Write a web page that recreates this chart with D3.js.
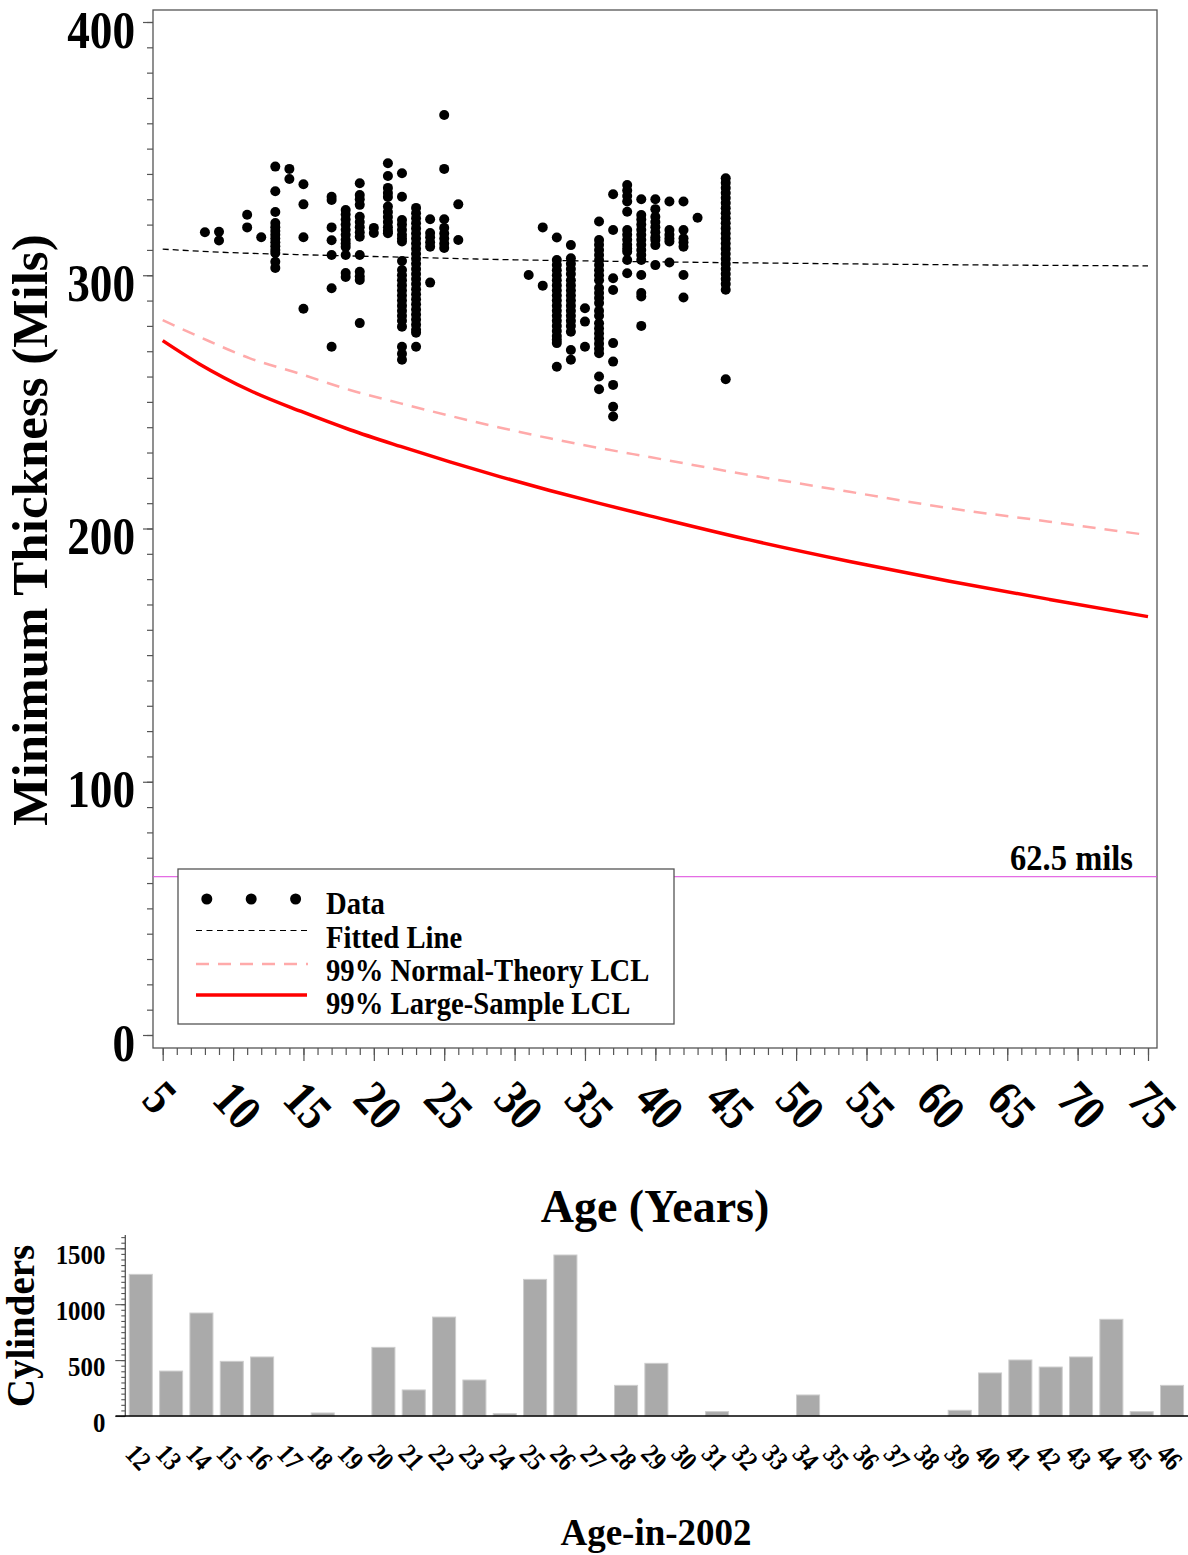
<!DOCTYPE html>
<html>
<head>
<meta charset="utf-8">
<script src="https://cdn.jsdelivr.net/npm/d3@7"></script>
<style>
  html, body { margin: 0; padding: 0; background: #fff; }
  svg { display: block; }
  text { font-family: "Liberation Serif", "Times New Roman", serif; font-weight: bold; fill: #000; }
</style>
</head>
<body>
<svg id="chart" width="1188" height="1555"></svg>
<script>
// ---------------- DATA ----------------
// scatter: one column of thickness readings per age
const pointAges = [8, 9, 11, 12, 13, 14, 15, 17, 18, 19, 20, 21, 22, 23, 24, 25, 26, 31, 32, 33, 34, 35, 36, 37, 38, 39, 40, 41, 42, 43, 45];
const pointThickness = [
  [317.0],
  [317.2, 313.7],
  [323.9, 318.9],
  [315.0],
  [342.9, 333.2, 325.0, 320.6, 319, 317.5, 316, 314.5, 313, 311.5, 310, 308.8, 305.3, 302.9],
  [342.0, 338.0],
  [335.9, 328.0, 315.0, 286.8],
  [331.0, 329.7, 318.9, 313.8, 308.0, 294.9, 271.8],
  [325.8, 324, 322, 320, 318, 316, 314, 312.5, 311.2, 308.0, 300.9, 299.3],
  [336.3, 331.7, 330, 327.8, 323.1, 321, 319, 317, 315.2, 308.0, 301.4, 299.5, 298.1, 281.1],
  [318.7, 316.7],
  [344.2, 339.2, 334.5, 332.5, 330.9, 327.1, 325, 323, 321, 319, 317.5, 316.6],
  [340.3, 331.0, 321.8, 320, 318, 316, 314.5, 313.3, 305.6, 302.1, 300, 298, 296, 294, 292, 290, 288, 286, 284, 282, 279.7, 271.8, 269, 266.6],
  [326.6, 324.5, 322.5, 320.5, 318.5, 316.5, 314.5, 312.5, 310.5, 308.5, 306.5, 304.5, 302.5, 300.5, 298.5, 296.5, 294.5, 292.5, 290.5, 288.5, 286.5, 284.5, 282.5, 280.5, 278.5, 277.3, 271.8],
  [322.1, 316.7, 315, 313, 311.3, 297.1],
  [363.3, 342.0, 322.1, 318.7, 316.5, 314.5, 312.5, 310.8],
  [328.0, 313.9],
  [300.1],
  [318.9, 295.9],
  [314.9, 306.0, 304, 302, 300, 298, 296, 294, 292, 290, 288, 286, 284, 282, 280, 278, 276, 274.5, 273.2, 263.9],
  [311.9, 306.7, 304.5, 302.5, 300.5, 298, 296, 294, 292, 290, 288, 286, 284, 282, 280, 277.7, 270.5, 266.6],
  [287.0, 281.7, 271.8],
  [321.2, 313.9, 312, 310, 308, 306, 304, 302, 300, 298, 295, 293, 291, 289, 286, 284, 281, 279, 277, 275, 273, 271, 269.2, 260.0, 255.0],
  [332.0, 317.9, 298.8, 294.2, 273.2, 265.9, 256.7, 248.1, 244.2],
  [335.6, 333.5, 331.3, 329.1, 325.1, 317.9, 316, 314, 312, 310.5, 309.3, 306.0, 300.8],
  [330.0, 323.8, 322, 320, 318, 316, 314, 312, 310, 308, 306.0, 300.1, 293.0, 291.6, 280.0],
  [330.0, 326.1, 323.1, 321, 319, 317, 315, 313.9, 311.9, 304.0],
  [329.1, 317.9, 316, 314.5, 313.3, 305.0],
  [329.1, 317.9, 314.6, 313, 311.3, 300.1, 291.2],
  [322.7],
  [338.3, 336.5, 334.5, 332.5, 330.5, 328.5, 326.5, 324.5, 322.5, 320.5, 318.5, 316.5, 314.5, 312.5, 310.5, 308.5, 306.5, 304.5, 302.5, 300.5, 298.5, 296.5, 294.3, 258.9]
];

// fitted line
const fitAges = [5, 10, 15, 20, 30, 40, 50, 60, 75];
const fittedThickness = [310.3, 308.9, 308.1, 307.4, 306.1, 305.3, 304.7, 304.2, 303.7];

// lower confidence limits
const lclAges = [5, 7.6, 11.2, 14.8, 18.3, 21.9, 25.4, 29, 32.5, 36.1, 39.6, 46.7, 53.8, 60.9, 68, 75];
const normalTheoryLCL = [282.3, 275.7, 267.2, 261.0, 254.7, 249.4, 244.5, 239.8, 235.6, 231.7, 228.2, 221.1, 214.5, 208.0, 202.7, 197.4];
const largeSampleLCL = [274.2, 265.0, 254.5, 246.3, 239.0, 232.4, 226.3, 220.4, 215.0, 209.8, 205.0, 195.5, 187.0, 179.2, 172.0, 165.2];

const minimumAllowed = 62.5;

const xTickValues = [5, 10, 15, 20, 25, 30, 35, 40, 45, 50, 55, 60, 65, 70, 75];
const yTickValues = [0, 100, 200, 300, 400];

const legendLabels = ["Data", "Fitted Line", "99% Normal-Theory LCL", "99% Large-Sample LCL"];

// bar chart
const barAges = ["12","13","14","15","16","17","18","19","20","21","22","23","24","25","26","27","28","29","30","31","32","33","34","35","36","37","38","39","40","41","42","43","44","45","46"];
const cylinders = [1267, 402, 921, 489, 528, 0, 27, 0, 614, 233, 885, 322, 21, 1222, 1440, 0, 274, 471, 0, 39, 0, 0, 188, 0, 0, 0, 0, 51, 385, 501, 438, 528, 865, 39, 274];
const barTickValues = [0, 500, 1000, 1500];

// ---------------- DRAW ----------------
const svg = d3.select("#chart");
const FONT = '"Liberation Serif", "Times New Roman", serif';
const SQ = 0.87; // horizontal squeeze of the tall, narrow tick font

// main plot geometry
const frame = { left: 153, top: 10, right: 1157, bottom: 1048 };
const x = d3.scaleLinear().domain([5, 75]).range([162.7, 1148]);
const y = d3.scaleLinear().domain([0, 400]).range([1035, 22]);

// frame
svg.append("rect")
  .attr("x", frame.left).attr("y", frame.top)
  .attr("width", frame.right - frame.left).attr("height", frame.bottom - frame.top)
  .attr("fill", "none").attr("stroke", "#555").attr("stroke-width", 1.3);

// y axis minor + major
const yMinor = svg.append("g").attr("transform", `translate(${frame.left},0)`)
  .call(d3.axisLeft(y).tickValues(d3.range(0, 401, 10)).tickSize(6).tickFormat(""));
const yMajor = svg.append("g").attr("transform", `translate(${frame.left},0)`)
  .call(d3.axisLeft(y).tickValues(yTickValues).tickSize(10).tickFormat(d3.format("d")));
[yMinor, yMajor].forEach(g => {
  g.select(".domain").remove();
  g.selectAll("line").attr("stroke", "#555").attr("stroke-width", 1.2);
});
yMajor.selectAll("text")
  .attr("x", 0).attr("y", 0).attr("dy", null)
  .attr("text-anchor", "end")
  .attr("transform", `translate(-18,25) scale(${SQ},1)`)
  .style("font-family", FONT).style("font-weight", "bold").style("font-size", "52px").attr("fill", "#000");

// x axis minor + major
const xMinor = svg.append("g").attr("transform", `translate(0,${frame.bottom})`)
  .call(d3.axisBottom(x).tickValues(d3.range(5, 76, 1)).tickSize(7).tickFormat(""));
const xMajor = svg.append("g").attr("transform", `translate(0,${frame.bottom})`)
  .call(d3.axisBottom(x).tickValues(xTickValues).tickSize(13).tickFormat(d3.format("d")));
[xMinor, xMajor].forEach(g => {
  g.select(".domain").remove();
  g.selectAll("line").attr("stroke", "#555").attr("stroke-width", 1.2);
});
xMajor.selectAll("text")
  .attr("x", 0).attr("y", 0).attr("dy", null)
  .attr("text-anchor", "start")
  .attr("transform", `translate(-23,53) rotate(47) scale(0.86,1)`)
  .style("font-family", FONT).style("font-weight", "bold").style("font-size", "50px").attr("fill", "#000");

// axis titles
svg.append("text")
  .attr("transform", "translate(47,530) rotate(-90)")
  .attr("text-anchor", "middle")
  .style("font-size", "51px")
  .text("Minimum Thickness (Mils)");
svg.append("text")
  .attr("x", 655).attr("y", 1222)
  .attr("text-anchor", "middle")
  .style("font-size", "46px")
  .text("Age (Years)");

// 62.5 mils reference line
svg.append("line")
  .attr("x1", frame.left).attr("x2", frame.right)
  .attr("y1", y(minimumAllowed)).attr("y2", y(minimumAllowed))
  .attr("stroke", "#dd44dd").attr("stroke-width", 1);
svg.append("text")
  .attr("transform", `translate(1133,${y(minimumAllowed) - 7}) scale(0.93,1)`)
  .attr("text-anchor", "end")
  .style("font-size", "35px")
  .text("62.5 mils");

// curves
const lineGen = d3.line().x(d => x(d[0])).y(d => y(d[1])).curve(d3.curveMonotoneX);
svg.append("path")
  .datum(lclAges.map((a, i) => [a, normalTheoryLCL[i]]))
  .attr("d", lineGen).attr("fill", "none")
  .attr("stroke", "#ffaaaa").attr("stroke-width", 2.5).attr("stroke-dasharray", "13,9");
svg.append("path")
  .datum(lclAges.map((a, i) => [a, largeSampleLCL[i]]))
  .attr("d", lineGen).attr("fill", "none")
  .attr("stroke", "#ff0000").attr("stroke-width", 3.5);
svg.append("path")
  .datum(fitAges.map((a, i) => [a, fittedThickness[i]]))
  .attr("d", lineGen).attr("fill", "none")
  .attr("stroke", "#000").attr("stroke-width", 1.3).attr("stroke-dasharray", "6,4");

// scatter points
const pts = [];
pointAges.forEach((a, i) => pointThickness[i].forEach(v => pts.push([a, v])));
svg.append("g").selectAll("circle").data(pts).join("circle")
  .attr("cx", d => x(d[0])).attr("cy", d => y(d[1])).attr("r", 5).attr("fill", "#000");

// legend
const lg = svg.append("g");
lg.append("rect")
  .attr("x", 178).attr("y", 869).attr("width", 496).attr("height", 155)
  .attr("fill", "#fff").attr("stroke", "#555").attr("stroke-width", 1.3);
[206.8, 251.2, 295.6].forEach(cx => lg.append("circle").attr("cx", cx).attr("cy", 899).attr("r", 5.5).attr("fill", "#000"));
lg.append("line").attr("x1", 196).attr("x2", 308).attr("y1", 930.5).attr("y2", 930.5)
  .attr("stroke", "#000").attr("stroke-width", 1.2).attr("stroke-dasharray", "6,4.5");
lg.append("line").attr("x1", 196).attr("x2", 308).attr("y1", 964).attr("y2", 964)
  .attr("stroke", "#ffaaaa").attr("stroke-width", 2.5).attr("stroke-dasharray", "13,9");
lg.append("line").attr("x1", 196).attr("x2", 307).attr("y1", 995).attr("y2", 995)
  .attr("stroke", "#ff0000").attr("stroke-width", 3.5);
const legendBaselines = [914, 948, 981, 1014];
legendLabels.forEach((t, i) => lg.append("text")
  .attr("transform", `translate(326,${legendBaselines[i]}) scale(0.925,1)`)
  .style("font-size", "31px").text(t));

// ---------------- BAR CHART ----------------
const bx = d3.scaleBand().domain(barAges).range([125.6, 1187.2]).paddingInner(0.24).paddingOuter(0.12);
const by = d3.scaleLinear().domain([0, 1500]).range([1416, 1248.3]);
const barAxisX = 125.3;

svg.append("g").selectAll("rect").data(barAges.map((a, i) => [a, cylinders[i]])).join("rect")
  .attr("x", d => bx(d[0])).attr("width", bx.bandwidth())
  .attr("y", d => by(d[1])).attr("height", d => by(0) - by(d[1]))
  .attr("fill", "#aaaaaa").attr("stroke", "#cdcdcd").attr("stroke-width", 1);

// y axis for bars
svg.append("line").attr("x1", barAxisX).attr("x2", barAxisX)
  .attr("y1", by(0)).attr("y2", 1235).attr("stroke", "#555").attr("stroke-width", 1.3);
const byMinor = svg.append("g").attr("transform", `translate(${barAxisX},0)`)
  .call(d3.axisLeft(by).tickValues(d3.range(0, 1601, 50)).tickSize(4).tickFormat(""));
const byMajor = svg.append("g").attr("transform", `translate(${barAxisX},0)`)
  .call(d3.axisLeft(by).tickValues(barTickValues).tickSize(10).tickFormat(d3.format("d")));
[byMinor, byMajor].forEach(g => {
  g.select(".domain").remove();
  g.selectAll("line").attr("stroke", "#555").attr("stroke-width", 1.1);
});
byMajor.selectAll("text")
  .attr("x", 0).attr("y", 0).attr("dy", null)
  .attr("text-anchor", "end")
  .attr("transform", "translate(-20,15) scale(0.92,1)")
  .style("font-family", FONT).style("font-weight", "bold").style("font-size", "27px").attr("fill", "#000");

// baseline
svg.append("line").attr("x1", 115.5).attr("x2", 1188)
  .attr("y1", by(0)).attr("y2", by(0)).attr("stroke", "#000").attr("stroke-width", 1.6);

// x labels for bars
svg.append("g").selectAll("text").data(barAges).join("text")
  .attr("transform", d => `translate(${bx(d) + bx.bandwidth() / 2 - 2},1457) rotate(47) scale(0.85,1)`)
  .attr("text-anchor", "middle").attr("dy", "0.35em")
  .style("font-size", "27px")
  .text(d => d);

svg.append("text")
  .attr("transform", "translate(34,1326) rotate(-90)")
  .attr("text-anchor", "middle")
  .style("font-size", "39px")
  .text("Cylinders");
svg.append("text")
  .attr("x", 656).attr("y", 1545)
  .attr("text-anchor", "middle")
  .style("font-size", "37px")
  .text("Age-in-2002");
</script>
</body>
</html>
